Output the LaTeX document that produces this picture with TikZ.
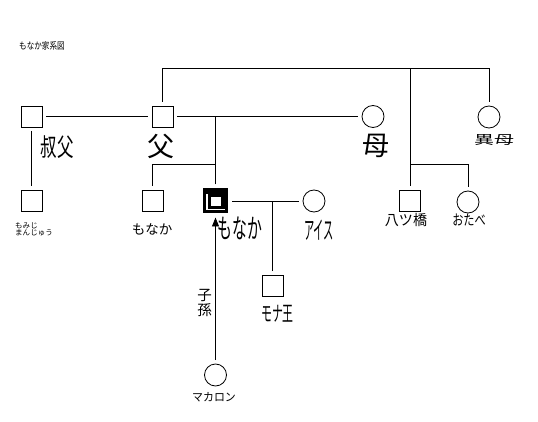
\documentclass[tikz,border=0pt]{standalone}
\usepackage{fontspec}
\usepackage{graphicx}
\usetikzlibrary{positioning,arrows.meta}
\newfontfamily\jp{Noto Sans CJK JP}
\tikzstyle{canvas} = [x = 1pt, y = -1pt]
\tikzstyle{personLine} = [color=black, line width=.8pt]
\tikzstyle{maleStyle} = [draw, line width=.8pt, minimum size=21pt, inner sep=0pt, outer sep=4pt]
\tikzstyle{femaleStyle} = [draw, circle, line width=.8pt, minimum size=22pt, inner sep=0pt, outer sep=4pt]
\tikzstyle{selfStyle} = [fill=black, minimum size=25pt, inner sep=0pt, outer sep=4pt]
\tikzstyle{nameText} = [inner sep=0pt, text=black]
\newcommand{\male}[3]{\node [maleStyle] (#1) at (#2, #3) {};}
\newcommand{\female}[3]{\node [femaleStyle] (#1) at (#2, #3) {};}
\newcommand{\nameLabel}[6]{\node [nameText, font=\jp\fontsize{#4}{#4}\selectfont] (#1) at (#2, #3) {\scalebox{#5}[1]{#6}};}

\begin{document}
\begin{tikzpicture}[canvas]
  \fill [white] (0,0) rectangle (538,422);
  \useasboundingbox (0,0) rectangle (538,422);
  \nameLabel{title}{42}{46}{9.5pt}{.8}{もなか家系図}
  % people
  \male{uncle}{31.5}{116.5}
  \male{father}{162.5}{116.5}
  \female{mother}{373}{116.5}
  \female{stepMother}{489}{117}
  \male{cousin}{31.5}{200.5}
  \male{brother}{152.5}{200.5}
  \node [selfStyle] (self) at (215.5, 201) {};
  \female{wife}{314}{201}
  \male{son}{272.5}{285.5}
  \female{grandChild}{215.5}{375}
  \male{yatsuhashi}{410}{200.5}
  \female{otabe}{468}{202}
  % self mark
  \draw [white, line width=1.2pt] ([shift={(-8.5,-6.5)}]self.center) |- ([shift={(9.5,8.5)}]self.center);
  \fill [white] ([shift={(-4.5,-3.5)}]self.center) rectangle ([shift={(5.5,5.5)}]self.center);
  % lines
  \coordinate (topY) at (0, 68);
  \coordinate (childY) at (0, 164);
  \draw [personLine] (father.north) -- (father.north |- topY) -| (stepMother.north);
  \draw [personLine] (yatsuhashi.north) -- (yatsuhashi.north |- topY);
  \draw [personLine] (uncle) -- (father);
  \draw [personLine] (uncle) -- (cousin);
  \draw [personLine] (father) -- (mother);
  \draw [personLine] (self.north) -- (self.north |- father);
  \draw [personLine] (self.north |- childY) -| (brother.north);
  \draw [personLine] (yatsuhashi.north |- childY) -| (otabe.north);
  \draw [personLine] (self) -- (wife);
  \draw [personLine] (son.north) -- (son.north |- wife);
  \draw [personLine, -{Triangle[length=9pt, width=7pt]}] (grandChild) -- (self);
  % names
  \nameLabel{uncleName}{57}{147}{25pt}{.66}{叔父}
  \nameLabel{fatherName}{161}{146.5}{27pt}{1}{父}
  \nameLabel{motherName}{376}{145.5}{27pt}{1}{母}
  \nameLabel{stepMotherName}{494}{140.5}{12.5pt}{1.6}{異母}
  \node [nameText, font=\jp\fontsize{7.5pt}{7.5pt}\selectfont, align=left] (cousinName) at (34, 229.5) {もみじ\\まんじゅう};
  \nameLabel{brotherName}{152}{229}{13.5pt}{1}{もなか}
  \nameLabel{selfName}{240}{228.5}{27pt}{.55}{もなか}
  \nameLabel{wifeName}{319}{230}{25pt}{.41}{アイス}
  \nameLabel{sonName}{277.5}{313.5}{21pt}{.52}{モナ王}
  \nameLabel{yatsuhashiName}{406}{220}{14.5pt}{.97}{八ツ橋}
  \nameLabel{otabeName}{469}{220}{14.5pt}{.77}{おたべ}
  \nameLabel{grandChildName}{214}{397}{11.5pt}{.95}{マカロン}
  \node [nameText, font=\jp\fontsize{14.5pt}{15.5pt}\selectfont, align=center] (lineageName) at (204.5, 303) {子\\孫};
\end{tikzpicture}
\end{document}
